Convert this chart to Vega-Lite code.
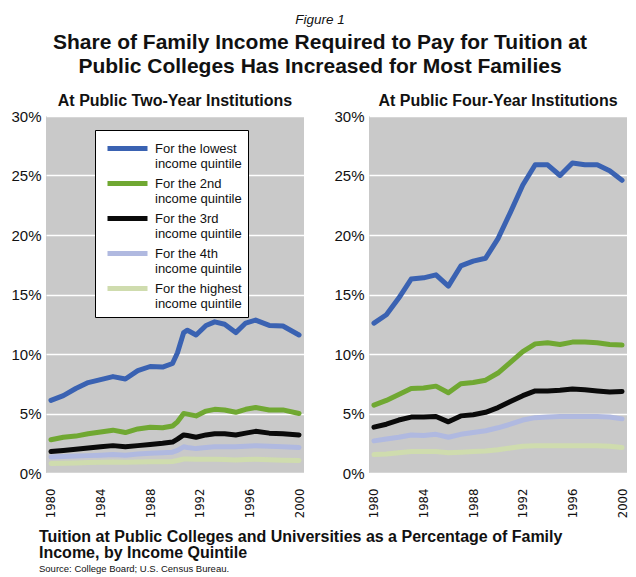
{
  "$schema": "https://vega.github.io/schema/vega-lite/v6.json",
  "padding": {"left": 10, "top": 12, "right": 2, "bottom": 2},
  "background": "white",
  "title": {
    "text": "Figure 1",
    "subtitle": ["Share of Family Income Required to Pay for Tuition at", "Public Colleges Has Increased for Most Families"],
    "anchor": "middle",
    "font": "Liberation Sans",
    "fontSize": 13.5,
    "fontStyle": "italic",
    "fontWeight": "normal",
    "color": "#111111",
    "subtitleFont": "Liberation Sans",
    "subtitleFontSize": 21,
    "subtitleFontWeight": "bold",
    "subtitleColor": "#111111",
    "subtitleLineHeight": 24,
    "subtitlePadding": 6,
    "offset": 16
  },
  "datasets": {
    "rows": [
      {"inst": "At Public Two-Year Institutions", "year": 1980, "lowest": 6.1, "2nd": 2.8, "3rd": 1.8, "4th": 1.35, "highest": 0.8},
      {"inst": "At Public Two-Year Institutions", "year": 1981, "lowest": 6.5, "2nd": 3.0, "3rd": 1.9, "4th": 1.38, "highest": 0.82},
      {"inst": "At Public Two-Year Institutions", "year": 1982, "lowest": 7.1, "2nd": 3.1, "3rd": 2.0, "4th": 1.42, "highest": 0.85},
      {"inst": "At Public Two-Year Institutions", "year": 1983, "lowest": 7.6, "2nd": 3.3, "3rd": 2.1, "4th": 1.46, "highest": 0.88},
      {"inst": "At Public Two-Year Institutions", "year": 1984, "lowest": 7.85, "2nd": 3.45, "3rd": 2.2, "4th": 1.5, "highest": 0.9},
      {"inst": "At Public Two-Year Institutions", "year": 1985, "lowest": 8.1, "2nd": 3.6, "3rd": 2.3, "4th": 1.55, "highest": 0.92},
      {"inst": "At Public Two-Year Institutions", "year": 1986, "lowest": 7.9, "2nd": 3.4, "3rd": 2.2, "4th": 1.5, "highest": 0.9},
      {"inst": "At Public Two-Year Institutions", "year": 1987, "lowest": 8.6, "2nd": 3.7, "3rd": 2.3, "4th": 1.6, "highest": 0.92},
      {"inst": "At Public Two-Year Institutions", "year": 1988, "lowest": 8.95, "2nd": 3.85, "3rd": 2.4, "4th": 1.65, "highest": 0.95},
      {"inst": "At Public Two-Year Institutions", "year": 1989, "lowest": 8.9, "2nd": 3.8, "3rd": 2.5, "4th": 1.7, "highest": 0.95},
      {"inst": "At Public Two-Year Institutions", "year": 1989.8, "lowest": 9.2, "2nd": 3.95, "3rd": 2.6, "4th": 1.75, "highest": 0.97},
      {"inst": "At Public Two-Year Institutions", "year": 1990.2, "lowest": 10.1, "2nd": 4.3, "3rd": 2.85, "4th": 1.9, "highest": 1.05},
      {"inst": "At Public Two-Year Institutions", "year": 1990.7, "lowest": 11.8, "2nd": 5.0, "3rd": 3.2, "4th": 2.2, "highest": 1.18},
      {"inst": "At Public Two-Year Institutions", "year": 1991.0, "lowest": 12.0, "2nd": 4.95, "3rd": 3.15, "4th": 2.15, "highest": 1.18},
      {"inst": "At Public Two-Year Institutions", "year": 1991.7, "lowest": 11.6, "2nd": 4.8, "3rd": 3.0, "4th": 2.05, "highest": 1.15},
      {"inst": "At Public Two-Year Institutions", "year": 1992.5, "lowest": 12.4, "2nd": 5.2, "3rd": 3.2, "4th": 2.15, "highest": 1.15},
      {"inst": "At Public Two-Year Institutions", "year": 1993.2, "lowest": 12.7, "2nd": 5.35, "3rd": 3.3, "4th": 2.2, "highest": 1.15},
      {"inst": "At Public Two-Year Institutions", "year": 1994.0, "lowest": 12.5, "2nd": 5.3, "3rd": 3.3, "4th": 2.2, "highest": 1.14},
      {"inst": "At Public Two-Year Institutions", "year": 1994.9, "lowest": 11.8, "2nd": 5.1, "3rd": 3.2, "4th": 2.2, "highest": 1.1},
      {"inst": "At Public Two-Year Institutions", "year": 1995.7, "lowest": 12.6, "2nd": 5.35, "3rd": 3.35, "4th": 2.25, "highest": 1.14},
      {"inst": "At Public Two-Year Institutions", "year": 1996.5, "lowest": 12.85, "2nd": 5.5, "3rd": 3.5, "4th": 2.3, "highest": 1.15},
      {"inst": "At Public Two-Year Institutions", "year": 1997.6, "lowest": 12.4, "2nd": 5.3, "3rd": 3.35, "4th": 2.25, "highest": 1.12},
      {"inst": "At Public Two-Year Institutions", "year": 1998.7, "lowest": 12.35, "2nd": 5.3, "3rd": 3.3, "4th": 2.2, "highest": 1.08},
      {"inst": "At Public Two-Year Institutions", "year": 2000, "lowest": 11.6, "2nd": 5.0, "3rd": 3.2, "4th": 2.15, "highest": 1.05},
      {"inst": "At Public Four-Year Institutions", "year": 1980, "lowest": 12.6, "2nd": 5.7, "3rd": 3.85, "4th": 2.7, "highest": 1.55},
      {"inst": "At Public Four-Year Institutions", "year": 1981, "lowest": 13.3, "2nd": 6.1, "3rd": 4.1, "4th": 2.85, "highest": 1.6},
      {"inst": "At Public Four-Year Institutions", "year": 1982, "lowest": 14.7, "2nd": 6.6, "3rd": 4.45, "4th": 3.0, "highest": 1.7},
      {"inst": "At Public Four-Year Institutions", "year": 1983, "lowest": 16.3, "2nd": 7.1, "3rd": 4.7, "4th": 3.2, "highest": 1.8},
      {"inst": "At Public Four-Year Institutions", "year": 1984, "lowest": 16.4, "2nd": 7.15, "3rd": 4.7, "4th": 3.15, "highest": 1.8},
      {"inst": "At Public Four-Year Institutions", "year": 1985, "lowest": 16.65, "2nd": 7.3, "3rd": 4.75, "4th": 3.25, "highest": 1.8},
      {"inst": "At Public Four-Year Institutions", "year": 1986, "lowest": 15.7, "2nd": 6.75, "3rd": 4.3, "4th": 3.0, "highest": 1.7},
      {"inst": "At Public Four-Year Institutions", "year": 1987, "lowest": 17.4, "2nd": 7.5, "3rd": 4.8, "4th": 3.25, "highest": 1.75},
      {"inst": "At Public Four-Year Institutions", "year": 1988, "lowest": 17.8, "2nd": 7.6, "3rd": 4.9, "4th": 3.4, "highest": 1.8},
      {"inst": "At Public Four-Year Institutions", "year": 1989, "lowest": 18.05, "2nd": 7.8, "3rd": 5.1, "4th": 3.55, "highest": 1.85},
      {"inst": "At Public Four-Year Institutions", "year": 1990, "lowest": 19.7, "2nd": 8.4, "3rd": 5.5, "4th": 3.8, "highest": 1.95},
      {"inst": "At Public Four-Year Institutions", "year": 1991, "lowest": 21.9, "2nd": 9.3, "3rd": 6.0, "4th": 4.1, "highest": 2.1},
      {"inst": "At Public Four-Year Institutions", "year": 1992, "lowest": 24.2, "2nd": 10.2, "3rd": 6.5, "4th": 4.45, "highest": 2.25},
      {"inst": "At Public Four-Year Institutions", "year": 1993, "lowest": 25.9, "2nd": 10.85, "3rd": 6.9, "4th": 4.65, "highest": 2.3},
      {"inst": "At Public Four-Year Institutions", "year": 1994, "lowest": 25.9, "2nd": 10.95, "3rd": 6.9, "4th": 4.7, "highest": 2.3},
      {"inst": "At Public Four-Year Institutions", "year": 1995, "lowest": 25.0, "2nd": 10.8, "3rd": 6.95, "4th": 4.75, "highest": 2.3},
      {"inst": "At Public Four-Year Institutions", "year": 1996, "lowest": 26.05, "2nd": 11.0, "3rd": 7.05, "4th": 4.75, "highest": 2.3},
      {"inst": "At Public Four-Year Institutions", "year": 1997, "lowest": 25.9, "2nd": 11.0, "3rd": 7.0, "4th": 4.75, "highest": 2.3},
      {"inst": "At Public Four-Year Institutions", "year": 1998, "lowest": 25.9, "2nd": 10.95, "3rd": 6.9, "4th": 4.75, "highest": 2.3},
      {"inst": "At Public Four-Year Institutions", "year": 1999, "lowest": 25.4, "2nd": 10.8, "3rd": 6.8, "4th": 4.7, "highest": 2.25},
      {"inst": "At Public Four-Year Institutions", "year": 2000, "lowest": 24.6, "2nd": 10.75, "3rd": 6.85, "4th": 4.55, "highest": 2.15}
    ]
  },
  "spacing": 10,
  "vconcat": [
    {
      "data": {"name": "rows"},
      "transform": [{"fold": ["lowest", "2nd", "3rd", "4th", "highest"], "as": ["q", "v"]}],
      "facet": {
        "column": {
          "field": "inst",
          "type": "nominal",
          "sort": ["At Public Two-Year Institutions", "At Public Four-Year Institutions"],
          "header": {
            "title": null,
            "labelFont": "Liberation Sans",
            "labelFontSize": 16,
            "labelFontWeight": "bold",
            "labelColor": "#111111",
            "labelPadding": 0
          }
        }
      },
      "spacing": 29,
      "resolve": {"axis": {"y": "independent"}},
      "spec": {
        "width": 258,
        "height": 357,
        "mark": {"type": "line", "strokeWidth": 5, "strokeJoin": "round", "strokeCap": "round"},
        "encoding": {
          "x": {
            "field": "year",
            "type": "quantitative",
            "scale": {"domain": [1979.6, 2000.4], "nice": false, "zero": false},
            "axis": {
              "title": null,
              "values": [1980, 1984, 1988, 1992, 1996, 2000],
              "format": "d",
              "labelAngle": 270,
              "labelFont": "DejaVu Sans Condensed, Liberation Sans",
              "labelFontSize": 13,
              "labelColor": "#111111",
              "labelPadding": 7,
              "domain": false,
              "ticks": false,
              "grid": false
            }
          },
          "y": {
            "field": "v",
            "type": "quantitative",
            "scale": {"domain": [0, 30], "nice": false},
            "axis": {
              "title": null,
              "values": [0, 5, 10, 15, 20, 25, 30],
              "labelExpr": "datum.value + '%'",
              "labelFont": "Liberation Sans",
              "labelFontSize": 15,
              "labelColor": "#111111",
              "labelPadding": 5,
              "domain": false,
              "ticks": false,
              "grid": true,
              "gridColor": "white",
              "gridWidth": 1.5,
              "gridOpacity": 1
            }
          },
          "color": {
            "field": "q",
            "type": "nominal",
            "scale": {
              "domain": ["lowest", "2nd", "3rd", "4th", "highest"],
              "range": ["#3a62b2", "#70a832", "#0a0a0a", "#b0b9e0", "#cfdcae"]
            },
            "legend": {
              "title": null,
              "orient": "none",
              "legendX": 49,
              "legendY": 14,
              "symbolType": "M-2,0H2",
              "symbolStrokeWidth": 5,
              "symbolSize": 400,
              "symbolOffset": 14,
              "labelExpr": "['For the ' + datum.label, 'income quintile']",
              "labelFont": "Liberation Sans",
              "labelFontSize": 13,
              "labelColor": "#111111",
              "labelOffset": 15,
              "rowPadding": 0,
              "padding": 6,
              "fillColor": "white",
              "strokeColor": "black",
              "labelLimit": 300,
              "labels": {"update": {"lineHeight": {"value": 12.5}}}
            }
          }
        }
      }
    },
    {
      "width": 560,
      "height": 1,
      "data": {"values": [{"a": 1}]},
      "mark": {"type": "text", "opacity": 0},
      "encoding": {"text": {"value": ""}},
      "title": {
        "text": ["Tuition at Public Colleges and Universities as a Percentage of Family", "Income, by Income Quintile"],
        "subtitle": "Source: College Board; U.S. Census Bureau.",
        "anchor": "start",
        "dx": -7,
        "font": "Liberation Sans",
        "fontSize": 16,
        "fontWeight": "bold",
        "lineHeight": 16.5,
        "color": "#111111",
        "subtitleFont": "Liberation Sans",
        "subtitleFontSize": 9.5,
        "subtitleColor": "#111111",
        "subtitlePadding": 3,
        "offset": 0
      }
    }
  ],
  "config": {
    "view": {"fill": "#c9c9c9", "stroke": null}
  }
}
